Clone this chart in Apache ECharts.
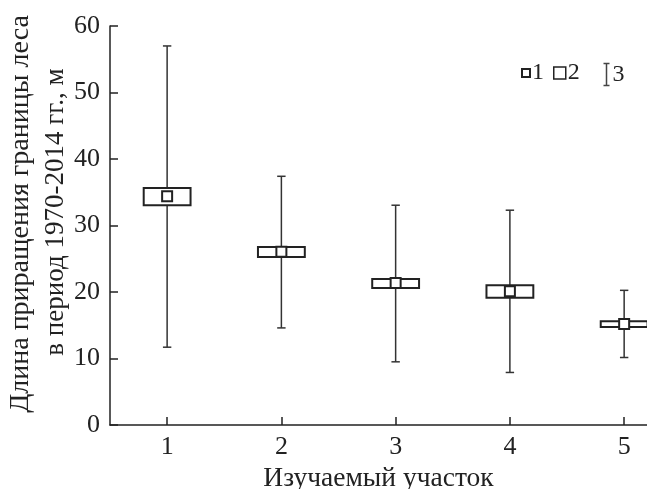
<!DOCTYPE html>
<html>
<head>
<meta charset="utf-8">
<script src="https://cdn.jsdelivr.net/npm/echarts@6/dist/echarts.min.js"></script>
<style>html,body{margin:0;padding:0;background:#fff}#c{width:647px;height:489px}</style>
</head>
<body>
<div id="c"></div>
<script>
// ---- data ----
const sites = ['1', '2', '3', '4', '5'];
const means = [34.4, 26.05, 21.35, 20.1, 15.2];
const boxLow = [33.05, 25.25, 20.6, 19.15, 14.75];
const boxHigh = [35.65, 26.75, 21.95, 21.0, 15.6];
const whiskerLow = [11.7, 14.6, 9.5, 7.9, 10.15];
const whiskerHigh = [57.0, 37.4, 33.05, 32.3, 20.25];
const yTicks = [0, 10, 20, 30, 40, 50, 60];
const legendNames = ['1', '2', '3'];
const xTitle = 'Изучаемый участок';
const yTitle1 = 'Длина приращения границы леса';
const yTitle2 = 'в период 1970-2014 гг., м';

const FONT = 'Liberation Serif';
const INK = '#222';

const xs = sites.map(Number);
const whiskerData = xs.map((x, i) => [x, whiskerLow[i], whiskerHigh[i]]);
const boxData = xs.map((x, i) => [x, boxLow[i], boxHigh[i]]);
const meanData = xs.map((x, i) => [x, means[i]]);

const chart = echarts.init(document.getElementById('c'), null, {renderer: 'canvas'});

const option = {
  animation: false,
  backgroundColor: '#fff',
  grid: {left: 110, right: 0, top: 26, bottom: 64, containLabel: false, outerBoundsMode: 'none'},
  xAxis: {
    type: 'value',
    min: 0.5,
    max: 5.2,
    name: xTitle,
    nameLocation: 'middle',
    nameGap: 34,
    nameTextStyle: {fontFamily: FONT, fontSize: 27.5, color: INK},
    axisLine: {show: true, lineStyle: {color: INK, width: 1.5}},
    axisTick: {show: true, inside: true, length: 8, lineStyle: {color: INK, width: 1.5}, customValues: xs},
    axisLabel: {fontFamily: FONT, fontSize: 26, color: INK, margin: 9, customValues: xs},
    splitLine: {show: false}
  },
  yAxis: {
    type: 'value',
    min: yTicks[0],
    max: yTicks[yTicks.length - 1],
    interval: 10,
    axisLine: {show: true, lineStyle: {color: INK, width: 1.5}},
    axisTick: {show: true, inside: true, length: 8, lineStyle: {color: INK, width: 1.5}},
    axisLabel: {fontFamily: FONT, fontSize: 26, color: INK, margin: 10},
    splitLine: {show: false}
  },
  legend: [
    {data: [{name: legendNames[0]}], left: 521, top: 61, padding: 0, itemWidth: 8, itemHeight: 8, itemGap: 0,
      textStyle: {fontFamily: FONT, fontSize: 24, color: INK, padding: [0, 0, 0, -3]}},
    {data: [{name: legendNames[1], icon: 'rect', itemStyle: {color: '#fff', borderColor: INK, borderWidth: 1.5}}],
      left: 553, top: 61, padding: 0, itemWidth: 12, itemHeight: 12, itemGap: 0,
      textStyle: {fontFamily: FONT, fontSize: 24, color: INK, padding: [0, 0, 0, -3]}},
    {data: [{name: legendNames[2], icon: 'path://M0,0L6,0M3,0L3,22M0,22L6,22',
      itemStyle: {color: 'none', borderColor: '#444', borderWidth: 1.5}}],
      left: 601, top: 61, padding: 0, itemWidth: 6, itemHeight: 22, itemGap: 0,
      textStyle: {fontFamily: FONT, fontSize: 24, color: INK, padding: [0, 0, 0, -2]}}
  ],
  graphic: [
    {type: 'text', x: 21, y: 214, rotation: Math.PI / 2,
      style: {text: yTitle1, fontFamily: FONT, fontSize: 28, fill: INK, align: 'center', verticalAlign: 'middle'}},
    {type: 'text', x: 56, y: 212, rotation: Math.PI / 2,
      style: {text: yTitle2, fontFamily: FONT, fontSize: 27, fill: INK, align: 'center', verticalAlign: 'middle'}}
  ],
  series: [
    {
      name: legendNames[2],
      type: 'custom',
      data: whiskerData,
      encode: {x: 0, y: [1, 2]},
      z: 2,
      renderItem: function (params, api) {
        const x = api.value(0);
        const top = api.coord([x, api.value(2)]);
        const bot = api.coord([x, api.value(1)]);
        const cap = 4.2;
        const st = {stroke: '#333', lineWidth: 1.5};
        return {type: 'group', children: [
          {type: 'line', shape: {x1: top[0], y1: top[1], x2: bot[0], y2: bot[1]}, style: st},
          {type: 'line', shape: {x1: top[0] - cap, y1: top[1], x2: top[0] + cap, y2: top[1]}, style: st},
          {type: 'line', shape: {x1: bot[0] - cap, y1: bot[1], x2: bot[0] + cap, y2: bot[1]}, style: st}
        ]};
      }
    },
    {
      name: legendNames[1],
      type: 'custom',
      data: boxData,
      encode: {x: 0, y: [1, 2]},
      z: 3,
      renderItem: function (params, api) {
        const x = api.value(0);
        const hi = api.coord([x, api.value(2)]);
        const lo = api.coord([x, api.value(1)]);
        const w = api.size([0.41, 0])[0];
        return {type: 'rect', shape: {x: hi[0] - w / 2, y: hi[1], width: w, height: lo[1] - hi[1]},
          style: {fill: '#fff', stroke: INK, lineWidth: 2}};
      }
    },
    {
      name: legendNames[0],
      type: 'scatter',
      data: meanData,
      symbol: 'rect',
      symbolSize: 10,
      z: 4,
      itemStyle: {color: '#fff', borderColor: INK, borderWidth: 2, opacity: 1}
    }
  ]
};
chart.setOption(option);
</script>
</body>
</html>
